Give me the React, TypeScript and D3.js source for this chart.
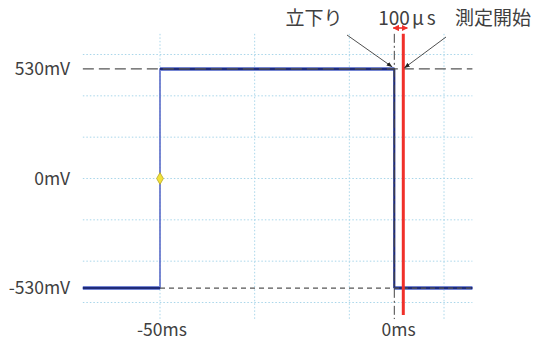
import React from 'react';
import * as d3 from 'd3';

// time in ms, voltage in mV
const waveTimes = [-66.3, -50, -50, -0.5, -0.5, 16];
const waveVolts = [-530, -530, 530, 530, -530, -530];
const gridTimes = [-50, -30, -10, 10];
const gridVolts = [-600, -400, -200, 0, 200, 400, 600];
const timeTicks = [-50, 0];
const timeTickLabels = ['-50ms', '0ms'];
const voltTicks = [530, 0, -530];
const voltTickLabels = ['530mV', '0mV', '-530mV'];
const fallTime = -0.5;
const startTime = 1.4;
const triggerPoint = { t: -50, v: 0 };

const W = 537;
const H = 341;
const FONT = '"Noto Sans CJK JP", "Noto Sans", sans-serif';

const App = () => {
  const x = d3.scaleLinear().domain([-50, 10]).range([160, 444]);
  const y = d3.scaleLinear().domain([-600, 600]).range([302.5, 54.5]);
  const [t0, t1] = [waveTimes[0], waveTimes[waveTimes.length - 1]];

  const wave = waveTimes.map((t, i) => [t, waveVolts[i]] as [number, number]);
  const line = d3
    .line<[number, number]>()
    .x((d) => x(d[0]))
    .y((d) => y(d[1]));

  // flat (noisy) parts of the trace
  const flats = [
    [wave[0], wave[1]],
    [wave[2], wave[3]],
    [wave[4], wave[5]],
  ];

  const diamond = d3.symbol().type(d3.symbolDiamond).size(40)();

  return (
    <svg
      width={W}
      height={H}
      style={{ position: 'absolute', left: 0, top: 0, background: '#fff' }}
      fontFamily={FONT}
    >
      <defs>
        <marker id="tri" viewBox="0 0 10 10" refX="10" refY="5" markerWidth="7" markerHeight="7" orient="auto">
          <path d="M0,1 L10,5 L0,9 z" fill="#222" />
        </marker>
        <marker id="redArr" viewBox="0 0 10 10" refX="9" refY="5" markerWidth="4" markerHeight="4" orient="auto-start-reverse">
          <path d="M0,0 L10,5 L0,10 z" fill="#f0302a" />
        </marker>
      </defs>

      {/* grid */}
      {gridVolts.map((v) => (
        <line key={'h' + v} x1={x(t0)} x2={x(t1)} y1={y(v)} y2={y(v)} stroke="#a9d6ea" strokeWidth={1} strokeDasharray="1.5,2" />
      ))}
      {gridTimes.map((t) => (
        <line key={'v' + t} x1={x(t)} x2={x(t)} y1={y(700)} y2={y(-680)} stroke="#a9d6ea" strokeWidth={1} strokeDasharray="1.5,2" />
      ))}

      {/* waveform */}
      <path d={line(wave) || ''} fill="none" stroke="#5a6cc8" strokeWidth={1.6} />
      {flats.map((f, i) => (
        <g key={i}>
          <line x1={x(f[0][0])} x2={x(f[1][0])} y1={y(f[0][1])} y2={y(f[1][1])} stroke="#7586d4" strokeWidth={4} />
          <line x1={x(f[0][0])} x2={x(f[1][0])} y1={y(f[0][1])} y2={y(f[1][1])} stroke="#1f2b78" strokeWidth={2} />
        </g>
      ))}
      <line x1={x(fallTime)} x2={x(fallTime)} y1={y(530)} y2={y(-530)} stroke="#1f2b78" strokeWidth={2} />

      {/* reference levels */}
      <line x1={x(t0)} x2={x(t1)} y1={y(530)} y2={y(530)} stroke="#555" strokeWidth={1.2} strokeDasharray="11,5" />
      <line x1={x(-50)} x2={x(t1)} y1={y(-530)} y2={y(-530)} stroke="#555" strokeWidth={1.2} strokeDasharray="5,4" />

      {/* fall marker and measurement start */}
      <line x1={x(fallTime)} x2={x(fallTime)} y1={y(700)} y2={y(-680)} stroke="#444" strokeWidth={1} strokeDasharray="9,3,2,3" />
      <line x1={x(startTime)} x2={x(startTime)} y1={y(700)} y2={y(-660)} stroke="#f0302a" strokeWidth={3} />
      <line
        x1={x(fallTime) - 1}
        x2={x(startTime) + 4}
        y1={28}
        y2={28}
        stroke="#f0302a"
        strokeWidth={1.6}
        markerStart="url(#redArr)"
        markerEnd="url(#redArr)"
      />

      <path d={diamond} transform={`translate(${x(triggerPoint.t)},${y(triggerPoint.v)})`} fill="#f3e23a" stroke="#b8a82a" strokeWidth={0.8} />

      {/* annotations */}
      <line x1={347} y1={35} x2={x(fallTime) - 2} y2={y(530) - 2} stroke="#222" strokeWidth={0.8} markerEnd="url(#tri)" />
      <line x1={446} y1={37} x2={x(startTime) + 1} y2={y(530) - 1} stroke="#222" strokeWidth={0.8} markerEnd="url(#tri)" />
      <text x={314} y={25} fontSize={19} fill="#404040" textAnchor="middle">立下り</text>
      <text x={407} y={25} fontSize={19} fill="#404040" textAnchor="middle">
        100<tspan dx={2}>μ</tspan><tspan dx={3}>s</tspan>
      </text>
      <text x={493} y={25} fontSize={19} fill="#404040" textAnchor="middle">測定開始</text>

      {/* axis labels */}
      {voltTicks.map((v, i) => (
        <text key={v} x={70} y={y(v)} dy="0.36em" fontSize={17.5} fill="#404040" textAnchor="end">
          {voltTickLabels[i]}
        </text>
      ))}
      {timeTicks.map((t, i) => (
        <text key={t} x={x(t) + 2} y={336} fontSize={17.5} fill="#404040" textAnchor="middle">
          {timeTickLabels[i]}
        </text>
      ))}
    </svg>
  );
};

export default App;
